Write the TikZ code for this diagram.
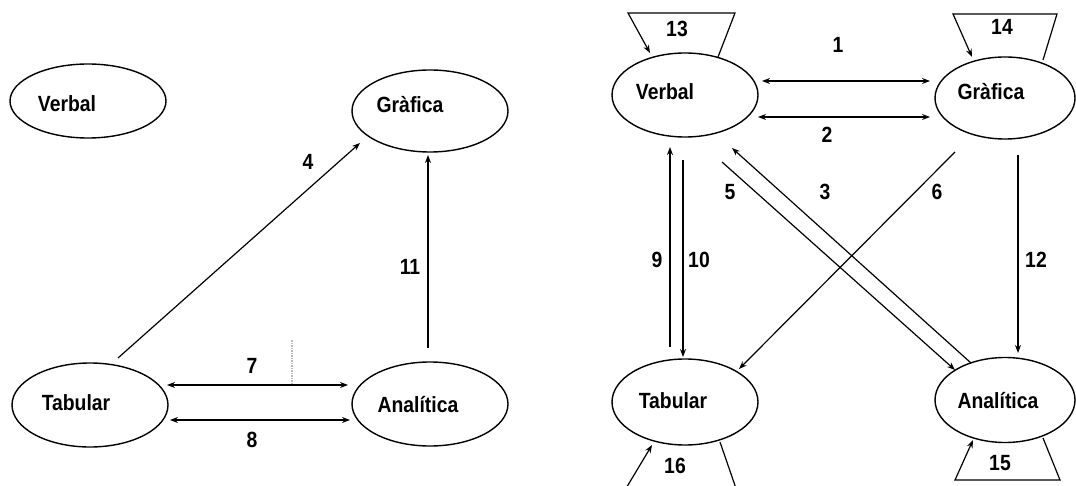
\documentclass[tikz,border=0pt]{standalone}
\usepackage{fontspec}
\setmainfont{Liberation Sans}
\newfontfamily\lblfont[FakeStretch=0.88]{Liberation Sans}
\usetikzlibrary{shapes.geometric,arrows.meta,calc}
\begin{document}
\begin{tikzpicture}[x=1pt,y=-1pt,
  oval/.style={ellipse,draw,line width=1.4pt,inner sep=0pt,outer sep=0pt},
  txt/.style={font=\lblfont\bfseries\fontsize{22}{26}\selectfont,anchor=base,inner sep=0pt},
  conn/.style={line width=1.2pt},
  fwd/.style={conn,-{Stealth[length=8pt,width=6pt]}},
  dbl/.style={conn,{Stealth[length=8pt,width=6pt]}-{Stealth[length=8pt,width=6pt]}}]
\useasboundingbox (0,0) rectangle (1076,486);
\clip (0,0) rectangle (1076,486);
% ---------- left panel ----------
\node[oval,minimum width=156pt,minimum height=74pt] (LV) at (88,101) {};
\node[oval,minimum width=156pt,minimum height=82pt] (LG) at (430,111) {};
\node[oval,minimum width=156pt,minimum height=84pt] (LT) at (90,405) {};
\node[oval,minimum width=156pt,minimum height=84pt] (LA) at (430,404) {};
\node[txt] (tLV) at (67,112) {Verbal};
\node[txt] (tLG) at (410,113) {Gràfica};
\node[txt] (tLT) at (76,410) {Tabular};
\node[txt] (tLA) at (418,412) {Analítica};
\draw[fwd] ($(LT)+(28,-47)$) -- ($(LG)+(-70,32)$);
\draw[fwd] ($(LA)+(-2,-56)$) -- ($(LG)+(-2,44)$);
\draw[dbl] ($(LT)+(77,-20)$) -- ($(LA)+(-82,-19)$);
\draw[dbl] ($(LT)+(80,15)$) -- ($(LA)+(-80,16)$);
\draw[gray!55,densely dotted,line width=1.5pt] (292,340) -- (292,383);
\node[txt] (n4) at (308,170) {4};
\node[txt] (n11) at (410,275) {11};
\node[txt] (n7) at (252,373) {7};
\node[txt] (n8) at (252,447) {8};
% ---------- right panel ----------
\node[oval,minimum width=146pt,minimum height=84pt] (RV) at (685,95) {};
\node[oval,minimum width=140pt,minimum height=82pt] (RG) at (1005,98) {};
\node[oval,minimum width=146pt,minimum height=86pt] (RT) at (685,402) {};
\node[oval,minimum width=140pt,minimum height=85pt] (RA) at (1005,400) {};
\node[txt] (tRV) at (665,100) {Verbal};
\node[txt] (tRG) at (991,100) {Gràfica};
\node[txt] (tRT) at (673,408) {Tabular};
\node[txt] (tRA) at (998,408) {Analítica};
% 1, 2
\draw[dbl] ($(RV)+(77,-14)$) -- ($(RG)+(-75,-17)$);
\draw[dbl] ($(RV)+(73,22)$) -- ($(RG)+(-75,19)$);
% 9, 10
\draw[fwd] ($(RT)+(-15,-55)$) -- ($(RV)+(-15,52)$);
\draw[fwd] ($(RV)+(-2,65)$) -- ($(RT)+(-2,-45)$);
% 12
\draw[fwd] ($(RG)+(13,57)$) -- ($(RA)+(13,-47)$);
% 3, 5, 6
\draw[fwd] ($(RA)+(-34,-37)$) -- ($(RV)+(47,53)$);
\draw[fwd] ($(RV)+(37,67)$) -- ($(RA)+(-50,-30)$);
\draw[fwd] ($(RG)+(-50,54)$) -- ($(RT)+(54,-33)$);
% loops
\draw[fwd] ($(RV)+(33,-38)$) -- ($(RV)+(50,-82)$) -- ($(RV)+(-57,-82)$) -- ($(RV)+(-35,-42)$);
\draw[fwd] ($(RG)+(38,-38)$) -- ($(RG)+(52,-84)$) -- ($(RG)+(-52,-84)$) -- ($(RG)+(-33,-41)$);
\draw[fwd] ($(RT)+(35,40)$) -- ($(RT)+(55,98)$) -- ($(RT)+(-66,98)$) -- ($(RT)+(-33,43)$);
\draw[fwd] ($(RA)+(38,38)$) -- ($(RA)+(55,80)$) -- ($(RA)+(-50,80)$) -- ($(RA)+(-32,40)$);
\node[txt] (n13) at (677,37) {13};
\node[txt] (n14) at (1002,35) {14};
\node[txt] (n16) at (675,473) {16};
\node[txt] (n15) at (1000,470) {15};
\node[txt] (n1) at (838,53) {1};
\node[txt] (n2) at (827,143) {2};
\node[txt] (n3) at (825,200) {3};
\node[txt] (n5) at (730,200) {5};
\node[txt] (n6) at (937,200) {6};
\node[txt] (n9) at (657,268) {9};
\node[txt] (n10) at (699,268) {10};
\node[txt] (n12) at (1036,268) {12};
\end{tikzpicture}
\end{document}
